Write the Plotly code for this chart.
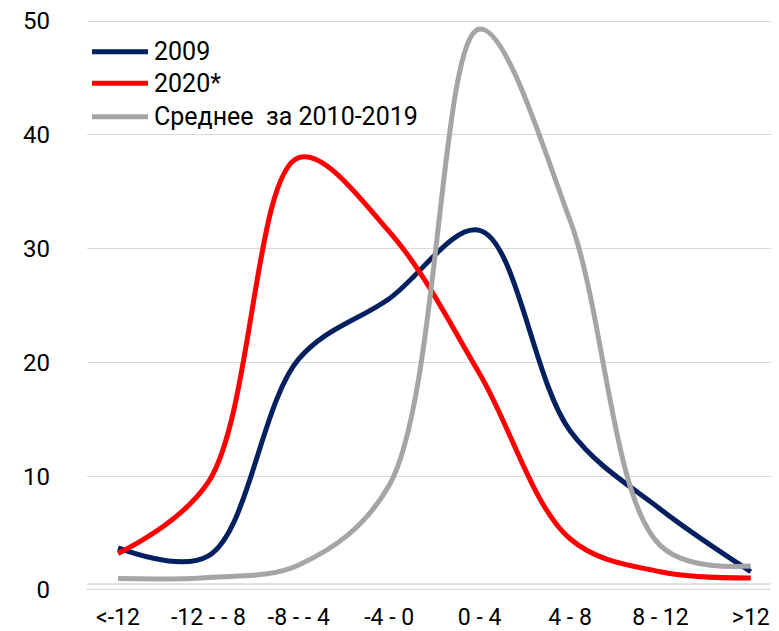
import plotly.graph_objects as go

categories = ["<-12", "-12 - - 8", "-8 - - 4", "-4 - 0", "0 - 4", "4 - 8", "8 - 12", ">12"]
series_names = ["2009", "2020*", "Среднее\u00a0 за 2010-2019"]
values_2009 = [3.7, 3.0, 20.3, 25.6, 31.6, 14.0, 7.1, 1.6]
values_2020 = [3.2, 9.5, 38.0, 31.5, 19.0, 4.5, 1.6, 1.05]
values_avg = [1.0, 1.1, 2.2, 9.2, 49.3, 32.5, 3.9, 2.1]
y_ticks = [0, 10, 20, 30, 40, 50]

colors = ["#002060", "#FF0000", "#A5A5A5"]
all_values = [values_2009, values_2020, values_avg]

OFF = 8  # default page margin of the html body
W, H = 779 - OFF, 631 - OFF
L, R, T, B = 87 - OFF, 0, 21 - OFF - 1, 41 - 1
pw, ph = W - L - R, H - T - B
FONT = "Roboto"

fig = go.Figure()
x_idx = list(range(len(categories)))
for name, vals, col in zip(series_names, all_values, colors):
    fig.add_trace(go.Scatter(
        x=x_idx, y=vals, mode="lines", name=name,
        line=dict(color=col, width=5, shape="spline", smoothing=1.0),
        showlegend=False, hoverinfo="skip"))

# custom legend (long line samples like the original), positions in page pixels
leg_y_px = [51.7, 83.3, 116.7]
for name, col, ypx in zip(series_names, colors, leg_y_px):
    yp = (H - B - (ypx - OFF)) / ph
    fig.add_shape(type="line", xref="paper", yref="paper",
                  x0=(92 - OFF - L) / pw, x1=(148 - OFF - L) / pw, y0=yp, y1=yp,
                  line=dict(color=col, width=5))
    fig.add_annotation(xref="paper", yref="paper", x=(152 - OFF - L) / pw, y=yp,
                       text=name, showarrow=False, xanchor="left", yanchor="middle",
                       font=dict(family=FONT, size=25, color="#000000"))

# second faint horizontal line just above the baseline
fig.add_shape(type="line", xref="paper", yref="paper", x0=0, x1=1,
              y0=7 / ph, y1=7 / ph, line=dict(color="#D9D9D9", width=1.3), layer="below")

fig.update_layout(
    width=W, height=H,
    margin=dict(l=L, r=R, t=T, b=B, pad=0, autoexpand=False),
    paper_bgcolor="white", plot_bgcolor="white",
    xaxis=dict(range=[-0.343, 7.312], tickmode="array", tickvals=x_idx, ticktext=categories,
               showgrid=False, zeroline=False, showline=False, ticks="", automargin=False,
               tickfont=dict(family=FONT, size=23, color="#000000"),
               ticklabelstandoff=10, ticklabeloverflow="allow"),
    yaxis=dict(range=[-0.09, 50.09], tickvals=y_ticks, showgrid=True, gridcolor="#D9D9D9", gridwidth=1.3,
               zeroline=False, showline=False, ticks="", automargin=False,
               tickfont=dict(family=FONT, size=24, color="#000000"),
               ticklabelstandoff=36, ticklabeloverflow="allow"),
)
fig.write_html("out.html")
